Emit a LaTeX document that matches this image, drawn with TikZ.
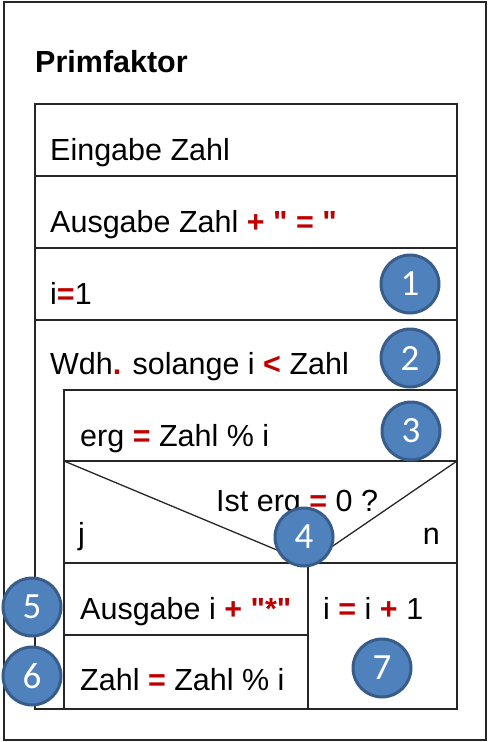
\documentclass[tikz,border=0pt]{standalone}
\usepackage{fontspec}
\setmainfont{Liberation Sans}[Ligatures=TeXOff]
\newfontfamily\numfont{Carlito}
\definecolor{opred}{HTML}{C00000}
\definecolor{discfill}{HTML}{4F81BD}
\definecolor{discline}{HTML}{385D8A}
\newcommand{\op}[1]{\textcolor{opred}{\textbf{#1}}}

\begin{document}
\begin{tikzpicture}[x=1pt, y=-1pt,
  struct/.style={draw=black!85, line width=1.3pt},
  lbl/.style={anchor=base west, inner sep=0pt, font=\fontsize{30.5}{34}\selectfont},
  heading/.style={anchor=base west, inner sep=0pt, font=\bfseries\fontsize{30.5}{34}\selectfont},
  marker/.style={circle, fill=discfill, draw=discline, line width=3pt,
    minimum size=58pt, inner sep=0pt, text=white,
    font=\numfont\fontsize{37}{40}\selectfont}]

  \useasboundingbox (0,0) rectangle (489,742);
  % outer frame
  \draw[draw=black!85, line width=2pt] (4,2) rectangle (486,740);

  \node[heading] (title) at (35,72) {Primfaktor};

  % structogram outline and sequence rows
  \draw[struct] (35,104) rectangle (457,709);
  \draw[struct] (35,176) -- (457,176);
  \draw[struct] (35,248) -- (457,248);
  \draw[struct] (35,320) -- (457,320);
  % loop body
  \draw[struct] (64,709) -- (64,390) -- (457,390);
  \draw[struct] (64,461) -- (457,461);
  % decision block
  \coordinate (tip) at (308,563);
  \draw[struct] (64,461) -- (tip) -- (457,461);
  \draw[struct] (64,563) -- (457,563);
  \draw[struct] (tip) -- (308,709);
  \draw[struct] (64,635) -- (308,635);

  % statements
  \node[lbl] (s1) at (50,160) {Eingabe Zahl};
  \node[lbl] (s2) at (50,232) {Ausgabe Zahl \op{+ " = "}};
  \node[lbl] (s3) at (50,304) {i\op{=}1};
  \node[lbl] (s4) at (50,374) {Wdh\op{.} solange i \op{<} Zahl};
  \node[lbl] (s5) at (80,446) {erg \op{=} Zahl \% i};
  \node[lbl] (cond) at (216,511) {Ist erg \op{=} 0 ?};
  \node[lbl] (yes) at (78,544) {j};
  \node[lbl, anchor=base east] (no) at (440,544) {n};
  \node[lbl] (s6) at (80,619) {Ausgabe i \op{+ "*"}};
  \node[lbl] (s7) at (80,690) {Zahl \op{=} Zahl \% i};
  \node[lbl] (s8) at (323,619) {i \op{=} i \op{+} 1};

  % numbered markers
  \node[marker] (m1) at (410,284) {1};
  \node[marker] (m2) at (410,358) {2};
  \node[marker] (m3) at (411,431) {3};
  \node[marker] (m4) at (304,537) {4};
  \node[marker] (m5) at (32,607) {5};
  \node[marker] (m6) at (32,676) {6};
  \node[marker] (m7) at (382,668) {7};
\end{tikzpicture}
\end{document}
